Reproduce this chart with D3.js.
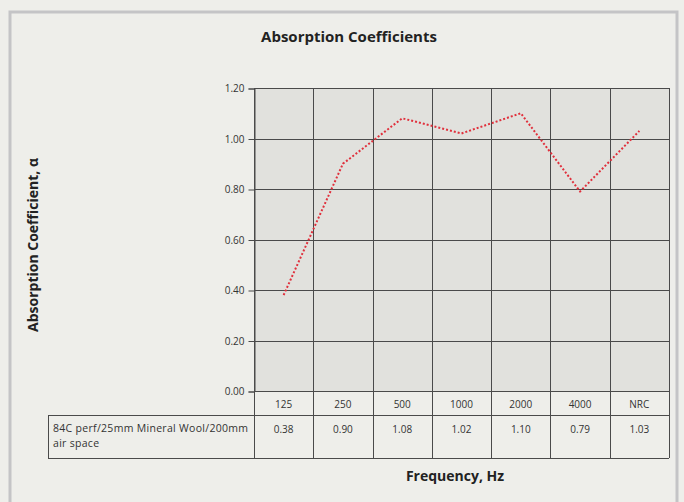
<!DOCTYPE html>
<html>
<head>
<meta charset="utf-8">
<script src="https://cdn.jsdelivr.net/npm/d3@7"></script>
<style>
  body { margin: 0; background: #eeeeea; }
  svg { display: block; font-family: "Open Sans", sans-serif; }
</style>
</head>
<body>
<div id="chart"></div>
<script>
var width = 684,
    height = 502;

// data
var bands = ["125", "250", "500", "1000", "2000", "4000", "NRC"];
var values = [0.38, 0.90, 1.08, 1.02, 1.10, 0.79, 1.03];
var yTicks = [0, 0.2, 0.4, 0.6, 0.8, 1.0, 1.2];
var seriesName = ["84C perf/25mm Mineral Wool/200mm", "air space"];

var plot = {left: 254, right: 669, top: 88, bottom: 391};
var headerH = 24, rowH = 43, tableLeft = 48;

var svg = d3.select("#chart").append("svg")
    .attr("width", width)
    .attr("height", height);

// frame
svg.append("rect")
    .attr("x", 10).attr("y", 12)
    .attr("width", 667).attr("height", 500)
    .style("fill", "#eeeeea")
    .style("stroke", "#c4c4c6")
    .style("stroke-width", 3);

svg.append("text")
    .attr("x", 349).attr("y", 42)
    .attr("text-anchor", "middle")
    .style("font-size", "15px")
    .style("font-weight", "bold")
    .style("fill", "#222")
    .text("Absorption Coefficients");

var x = d3.scaleBand()
    .domain(bands)
    .range([plot.left, plot.right]);

var y = d3.scaleLinear()
    .domain([0, 1.2])
    .range([plot.bottom, plot.top]);

// plot background
svg.append("rect")
    .attr("x", plot.left).attr("y", plot.top)
    .attr("width", plot.right - plot.left)
    .attr("height", plot.bottom - plot.top)
    .style("fill", "#e1e1dd");

// horizontal grid
svg.append("g").selectAll("line")
    .data(yTicks)
  .enter().append("line")
    .attr("x1", plot.left).attr("x2", plot.right)
    .attr("y1", function(d) { return Math.round(y(d)) + 0.5; })
    .attr("y2", function(d) { return Math.round(y(d)) + 0.5; })
    .style("stroke", "#4a4a4a")
    .style("stroke-width", 1);

// vertical grid through plot + table
var vLines = bands.map(function(d) { return x(d); }).concat([plot.right]);
svg.append("g").selectAll("line")
    .data(vLines)
  .enter().append("line")
    .attr("x1", function(d) { return Math.round(d) + 0.5; })
    .attr("x2", function(d) { return Math.round(d) + 0.5; })
    .attr("y1", plot.top)
    .attr("y2", plot.bottom + headerH + rowH)
    .style("stroke", "#4a4a4a")
    .style("stroke-width", 1);

// y axis
var yAxis = d3.axisLeft(y)
    .tickValues(yTicks)
    .tickSize(6)
    .tickFormat(d3.format(".2f"));

var ga = svg.append("g")
    .attr("transform", "translate(" + (plot.left + 0.5) + ",0.5)")
    .call(yAxis);
ga.select(".domain").style("stroke", "#4a4a4a");
ga.selectAll(".tick line").style("stroke", "#4a4a4a");
ga.selectAll(".tick text")
    .attr("x", -10)
    .style("font-family", "'Open Sans', sans-serif")
    .style("font-size", "10px")
    .style("fill", "#333");

// table
var tTop = plot.bottom + headerH;
svg.append("line")
    .attr("x1", tableLeft).attr("x2", plot.right)
    .attr("y1", tTop + 0.5).attr("y2", tTop + 0.5)
    .style("stroke", "#4a4a4a");
svg.append("line")
    .attr("x1", tableLeft).attr("x2", plot.right)
    .attr("y1", tTop + rowH + 0.5).attr("y2", tTop + rowH + 0.5)
    .style("stroke", "#4a4a4a");
svg.append("line")
    .attr("x1", tableLeft + 0.5).attr("x2", tableLeft + 0.5)
    .attr("y1", tTop).attr("y2", tTop + rowH)
    .style("stroke", "#4a4a4a");

svg.append("g").selectAll("text")
    .data(bands)
  .enter().append("text")
    .attr("x", function(d) { return x(d) + x.bandwidth() / 2; })
    .attr("y", plot.bottom + 17)
    .attr("text-anchor", "middle")
    .style("font-size", "10px")
    .style("fill", "#333")
    .text(function(d) { return d; });

svg.append("g").selectAll("text")
    .data(values)
  .enter().append("text")
    .attr("x", function(d, i) { return x(bands[i]) + x.bandwidth() / 2; })
    .attr("y", tTop + 18)
    .attr("text-anchor", "middle")
    .style("font-size", "10px")
    .style("fill", "#333")
    .text(function(d) { return d.toFixed(2); });

// series name, two lines
svg.append("g").selectAll("text")
    .data(seriesName)
  .enter().append("text")
    .attr("x", tableLeft + 5)
    .attr("y", function(d, i) { return tTop + 17 + i * 14.5; })
    .style("font-size", "10.5px")
    .style("letter-spacing", "0.3px")
    .style("fill", "#333")
    .text(function(d) { return d; });

// line
var line = d3.line()
    .x(function(d, i) { return x(bands[i]) + x.bandwidth() / 2; })
    .y(function(d) { return y(d); });

svg.append("path")
    .attr("d", line(values))
    .style("fill", "none")
    .style("stroke", "#e0303c")
    .style("stroke-width", 2)
    .style("stroke-dasharray", "2,2");

// axis titles
svg.append("text")
    .attr("transform", "translate(38,245) rotate(-90)")
    .attr("text-anchor", "middle")
    .style("font-size", "14px")
    .style("font-weight", "bold")
    .style("fill", "#222")
    .text("Absorption Coefficient, α");

svg.append("text")
    .attr("x", 455).attr("y", 481)
    .attr("text-anchor", "middle")
    .style("font-size", "14px")
    .style("font-weight", "bold")
    .style("fill", "#222")
    .text("Frequency, Hz");
</script>
</body>
</html>
